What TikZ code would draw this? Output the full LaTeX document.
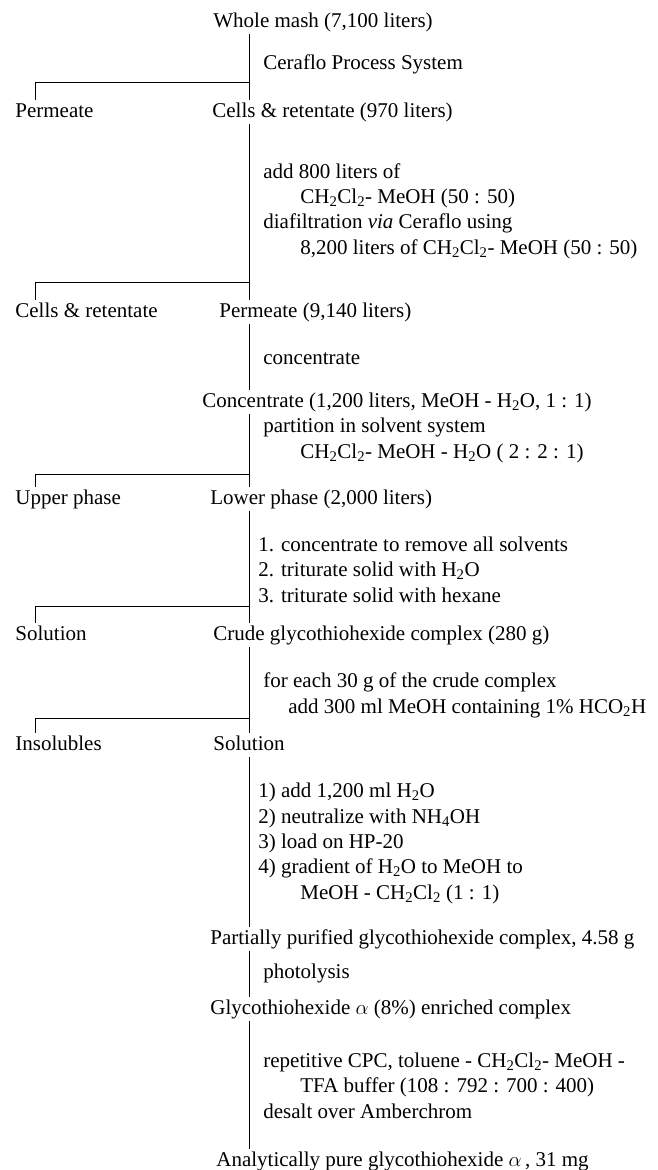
\documentclass[tikz,border=0pt]{standalone}
\usepackage{fontspec}
\setmainfont{Liberation Serif}

\newcommand{\chcl}{CH\textsubscript{2}Cl\textsubscript{2}}
\newcommand{\water}{H\textsubscript{2}O}
\newcommand{\ind}{\hspace*{37pt}}

\begin{document}
\begin{tikzpicture}[x=1pt, y=-1pt, line width=0.8pt,
    every node/.style={font=\fontsize{21}{25.3}\selectfont, inner sep=0pt},
    stage/.style={anchor=base west, text height=15pt, text depth=5pt, inner ysep=2pt},
    stepnote/.style={anchor=base west, align=left}] % base = last line
    \useasboundingbox (0,0) rectangle (657,1170);

    \coordinate (spine) at (249,0); % main column line
    \coordinate (tick) at (35,0);   % side branches

    % products
    \node[stage] (whole) at (213,27) {Whole mash (7,100 liters)};
    \node[stage] (perm1) at (15,117) {Permeate};
    \node[stage] (cells1) at (212,117) {Cells \& retentate (970 liters)};
    \node[stage] (cells2) at (15,317) {Cells \& retentate};
    \node[stage] (perm2) at (219,317) {Permeate (9,140 liters)};
    \node[stage] (conc) at (202,407) {Concentrate (1,200 liters, MeOH - \water, 1 : 1)};
    \node[stage] (upper) at (15,504) {Upper phase};
    \node[stage] (lower) at (210,504) {Lower phase (2,000 liters)};
    \node[stage] (sol1) at (15,640) {Solution};
    \node[stage] (crude) at (213,640) {Crude glycothiohexide complex (280 g)};
    \node[stage] (insol) at (15,750) {Insolubles};
    \node[stage] (sol2) at (213,750) {Solution};
    \node[stage] (partial) at (210,944) {Partially purified glycothiohexide complex, 4.58 g};
    \node[stage] (enrich) at (210,1014) {Glycothiohexide $\alpha$\ (8\%) enriched complex};
    \node[stage] (pure) at (216,1166) {Analytically pure glycothiohexide $\alpha$\,, 31 mg};

    % steps
    \node[stepnote] (cer) at (263,69) {Ceraflo Process System};
    \node[stepnote] (dia) at (263,254) {add 800 liters of\\
        \ind\chcl- MeOH (50 : 50)\\
        diafiltration \textit{via} Ceraflo using\\
        \ind 8,200 liters of \chcl- MeOH (50 : 50)};
    \node[stepnote] (conc1) at (263,364) {concentrate};
    \node[stepnote] (part) at (263,458) {partition in solvent system\\
        \ind\chcl- MeOH - \water\ ( 2 : 2 : 1)};
    \node[stepnote] (trit) at (258,602) {1. concentrate to remove all solvents\\
        2. triturate solid with \water\\
        3. triturate solid with hexane};
    \node[stepnote] (dissolve) at (263,713) {for each 30 g of the crude complex\\
        \hspace*{25pt}add 300 ml MeOH containing 1\% HCO\textsubscript{2}H};
    \node[stepnote] (hp) at (258,899) {1) add 1,200 ml \water\\
        2) neutralize with NH\textsubscript{4}OH\\
        3) load on HP-20\\
        4) gradient of \water\ to MeOH to\\
        \hspace*{42pt}MeOH - \chcl\ (1 : 1)};
    \node[stepnote] (photo) at (263,978) {photolysis};
    \node[stepnote] (cpc) at (263,1118) {repetitive CPC, toluene - \chcl- MeOH -\\
        \ind TFA buffer (108 : 792 : 700 : 400)\\
        desalt over Amberchrom};

    % branch points
    \coordinate (br1) at (249,82);
    \coordinate (br2) at (249,282);
    \coordinate (br3) at (249,474);
    \coordinate (br4) at (249,606);
    \coordinate (br5) at (249,718);

    % Draw lines
    \draw (whole.south -| spine) -- (cells1.north -| spine);
    \draw (cells1.south -| spine) -- (perm2.north -| spine);
    \draw (perm2.south -| spine) -- (conc.north -| spine);
    \draw (conc.south -| spine) -- (lower.north -| spine);
    \draw (lower.south -| spine) -- (crude.north -| spine);
    \draw (crude.south -| spine) -- (sol2.north -| spine);
    \draw (sol2.south -| spine) -- (partial.north -| spine);
    \draw (partial.south -| spine) -- (enrich.north -| spine);
    \draw (enrich.south -| spine) -- (pure.north -| spine);

    \draw (br1) -| (perm1.north -| tick);
    \draw (br2) -| (cells2.north -| tick);
    \draw (br3) -| (upper.north -| tick);
    \draw (br4) -| (sol1.north -| tick);
    \draw (br5) -| (insol.north -| tick);

\end{tikzpicture}
\end{document}
